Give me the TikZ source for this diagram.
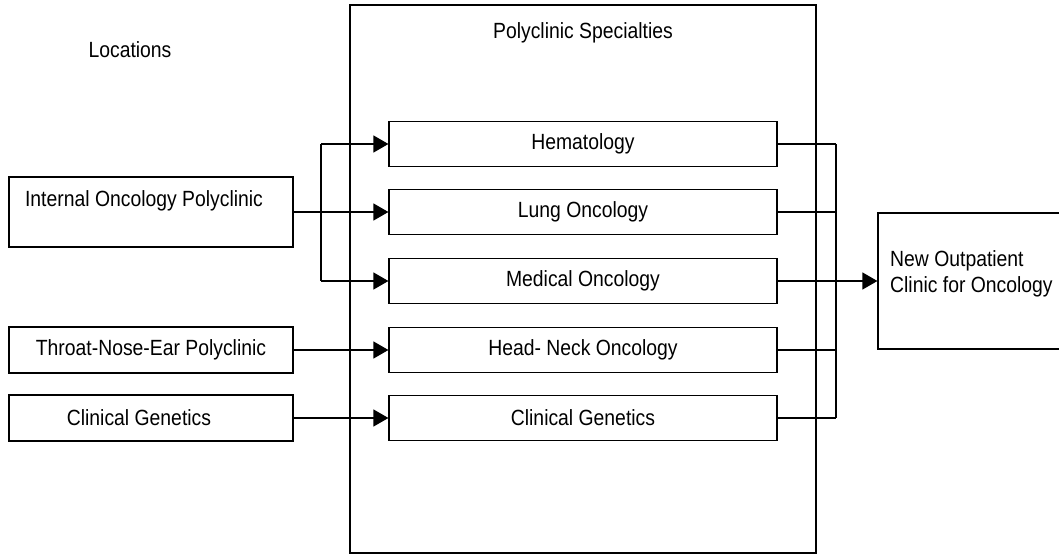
\documentclass[tikz,border=0pt]{standalone}
\usepackage{fontspec}
\setmainfont{Liberation Sans}[FakeStretch=0.88]
\usetikzlibrary{arrows.meta}
\begin{document}
\begin{tikzpicture}[x=1pt,y=-1pt,
  every node/.style={font=\fontsize{22}{26}\selectfont},
  box/.style={draw, line width=1.2pt, rectangle, inner sep=0pt, anchor=center},
  inbox/.style={box, minimum width=388pt, minimum height=45pt},
  lbox/.style={box, minimum width=284pt, minimum height=46pt},
  txt/.style={inner sep=0pt, anchor=center},
  wire/.style={line width=1.2pt},
  arr/.style={wire, -{Triangle[length=15pt,width=17pt]}}]
\useasboundingbox (0,0) rectangle (1059,556);
% big container
\node[box, minimum width=466pt, minimum height=548pt] (spec) at (583,279) {};
\node[txt] (spectitle) at (583,33) {Polyclinic Specialties};
\node[txt] (loc) at (130,50) {Locations};
% inner boxes
\node[inbox] (hem) at (583,144) {Hematology};
\node[inbox] (lung) at (583,212) {Lung Oncology};
\node[inbox] (med) at (583,281) {Medical Oncology};
\node[inbox] (hn) at (583,350) {Head- Neck Oncology};
\node[inbox] (cgi) at (583,418) {Clinical Genetics};
% left boxes
\node[lbox, minimum height=70pt] (int) at (151,212) {};
\node[txt] (inttext) at (144,201) {Internal Oncology Polyclinic};
\node[lbox] (tne) at (151,350) {Throat-Nose-Ear Polyclinic};
\node[lbox] (cgl) at (151,418) {};
\node[txt] (cgltext) at (139,418) {Clinical Genetics};
% output box
\node[box, minimum width=197pt, minimum height=136pt] (out) at (976.5,281) {};
\node[txt, anchor=west, align=left] (outtext) at (890,274) {New Outpatient\\Clinic for Oncology};
% left connectors
\coordinate (lb) at (321,212);
\draw[arr] (int.east) -- (lung.west);
\draw[wire] (lb |- hem.west) -- (lb |- med.west);
\draw[arr] (lb |- hem.west) -- (hem.west);
\draw[arr] (lb |- med.west) -- (med.west);
\draw[arr] (tne.east) -- (hn.west);
\draw[arr] (cgl.east) -- (cgi.west);
% right connectors
\coordinate (rb) at (836,281);
\draw[wire] (hem.east) -- (rb |- hem.east);
\draw[wire] (lung.east) -- (rb |- lung.east);
\draw[wire] (hn.east) -- (rb |- hn.east);
\draw[wire] (cgi.east) -- (rb |- cgi.east);
\draw[wire] (rb |- hem.east) -- (rb |- cgi.east);
\draw[wire] (med.east) -- (rb |- med.east);
\draw[arr] (rb |- med.east) -- (out.west |- med.east);
\end{tikzpicture}
\end{document}
